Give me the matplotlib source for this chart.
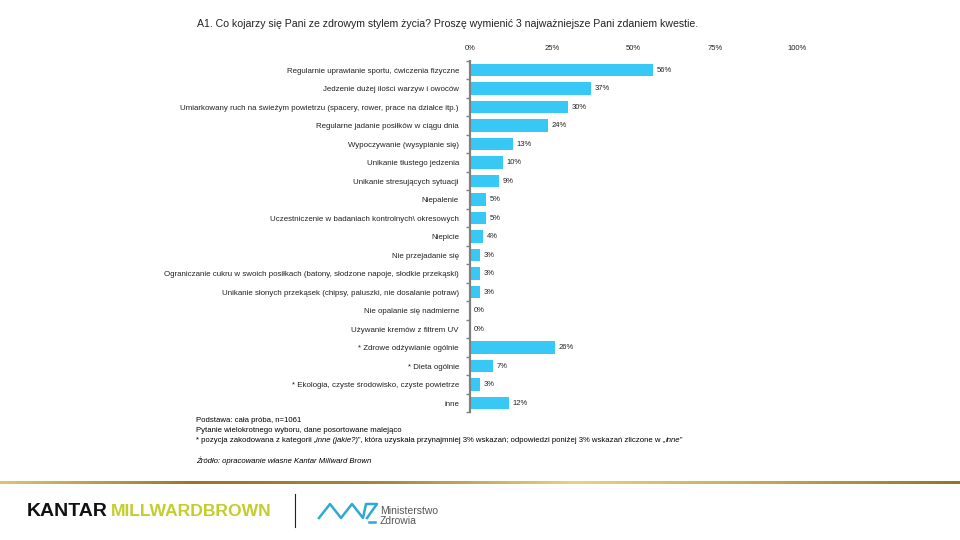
import matplotlib
matplotlib.use("Agg")
import matplotlib.pyplot as plt
import numpy as np
from matplotlib.colors import LinearSegmentedColormap

plt.rcParams["font.family"] = ["Liberation Sans", "DejaVu Sans"]

title = ("A1. Co kojarzy się Pani ze zdrowym stylem życia? "
         "Proszę wymienić 3 najważniejsze Pani zdaniem kwestie.")

categories = [
    "Regularnie uprawianie sportu, ćwiczenia fizyczne",
    "Jedzenie dużej ilości warzyw i owoców",
    "Umiarkowany ruch na świeżym powietrzu (spacery, rower, prace na działce itp.)",
    "Regularne jadanie posiłków w ciągu dnia",
    "Wypoczywanie (wysypianie się)",
    "Unikanie tłustego jedzenia",
    "Unikanie stresujących sytuacji",
    "Niepalenie",
    "Uczestniczenie w badaniach kontrolnych\\ okresowych",
    "Niepicie",
    "Nie przejadanie się",
    "Ograniczanie cukru w swoich posiłkach (batony, słodzone napoje, słodkie przekąski)",
    "Unikanie słonych przekąsek (chipsy, paluszki, nie dosalanie potraw)",
    "Nie opalanie się nadmierne",
    "Używanie kremów z filtrem UV",
    "* Zdrowe odżywianie ogólnie",
    "* Dieta ogólnie",
    "* Ekologia, czyste środowisko, czyste powietrze",
    "inne",
]
values = [56, 37, 30, 24, 13, 10, 9, 5, 5, 4, 3, 3, 3, 0, 0, 26, 7, 3, 12]
x_ticks = [0, 25, 50, 75, 100]
x_tick_labels = ["0%", "25%", "50%", "75%", "100%"]

BAR = "#38c8f6"
GRAY = "#808080"
W, H = 960, 540

fig = plt.figure(figsize=(9.6, 5.4), dpi=100)

# main axes, placed in pixel terms
left, right = 470, 797
top, bottom = 60.75, 412.25
ax = fig.add_axes([left / W, 1 - bottom / H, (right - left) / W, (bottom - top) / H])

y = np.arange(len(categories))
ax.barh(y, values, height=0.65, color=BAR)
for yi, v in zip(y, values):
    ax.annotate(f"{v}%", (v, yi), xytext=(2.5, 0), textcoords="offset points",
                va="center", ha="left", fontsize=5.5, color="#222222")

ax.set_xlim(0, 100)
ax.set_ylim(len(categories) - 0.5, -0.5)
ax.xaxis.tick_top()
ax.set_xticks(x_ticks)
ax.set_xticklabels(x_tick_labels, fontsize=5.5, color="#222222")
ax.tick_params(axis="x", length=0, pad=6)
ax.set_yticks(y)
ax.set_yticklabels(categories, fontsize=5.7, color="#222222")
ax.tick_params(axis="y", which="major", length=0, pad=8)
ax.set_yticks(np.arange(-0.5, len(categories), 1), minor=True)
ax.tick_params(axis="y", which="minor", length=3, width=1, color=GRAY)
for s in ["top", "right", "bottom"]:
    ax.spines[s].set_visible(False)
ax.spines["left"].set_color(GRAY)
ax.spines["left"].set_linewidth(1.6)

fig.text(197 / W, 1 - 24 / H, title, fontsize=7.6, va="center", ha="left", color="#222222")

# footnotes
fs = 5.6
fig.text(196 / W, 1 - 421 / H, "Podstawa: cała próba, n=1061", fontsize=fs, va="center")
fig.text(196 / W, 1 - 430 / H, "Pytanie wielokrotnego wyboru, dane posortowane malejąco",
         fontsize=fs, va="center")
segs = [("inne (jakie?)", "italic"),
        ("”, która uzyskała przynajmniej 3% wskazań; odpowiedzi poniżej 3% wskazań zliczone w „",
         "normal"),
        ("inne", "italic"),
        ("”", "normal")]
prev = fig.text(196 / W, 1 - 440 / H, "* pozycja zakodowana z kategorii „",
                fontsize=fs, va="center")
for txt, st in segs:
    prev = ax.annotate(txt, xy=(1, 0.5), xycoords=prev, va="center", ha="left",
                       fontsize=fs, style=st, annotation_clip=False)
fig.text(196 / W, 1 - 461 / H, "Źródło: opracowanie własne Kantar Millward Brown",
         fontsize=fs, va="center", style="italic")

# gold line
gold = LinearSegmentedColormap.from_list(
    "gold", ["#dcc470", "#9a7622", "#a8863a", "#e6d480", "#c4a852", "#957424"])
lax = fig.add_axes([0, 1 - 484 / H, 1, 3.5 / H])
lax.imshow(np.linspace(0, 1, 400)[None, :], aspect="auto", cmap=gold)
lax.axis("off")

# logos
kantar = fig.text(27 / W, 1 - 511 / H, "KANTAR", fontsize=14, fontweight="bold",
                  va="center", ha="left", color="#111111")
ax.annotate("MILLWARDBROWN", xy=(1, 0.5), xycoords=kantar, xytext=(2, 0),
            textcoords="offset points", fontsize=12.6, fontweight="bold",
            va="center", ha="left", color="#c3cd2c", annotation_clip=False)
fig.add_artist(plt.Line2D([295 / W, 295 / W], [1 - 494 / H, 1 - 527 / H],
                          color="#222222", lw=0.8))
zx = [319, 330, 341, 352, 363, 366, 377, 367]
zy = [518, 504, 518, 504, 518, 504, 504, 518]
fig.add_artist(plt.Line2D([v / W for v in zx], [1 - v / H for v in zy],
                          color="#2ea9d6", lw=1.8))
fig.add_artist(plt.Line2D([369 / W, 375 / W], [1 - 522 / H, 1 - 522 / H],
                          color="#2ea9d6", lw=1.8))
fig.text(380 / W, 1 - 510.5 / H, "Ministerstwo", fontsize=7.5, va="center", color="#555555")
fig.text(380 / W, 1 - 521.5 / H, "Zdrowia", fontsize=7.5, va="center", color="#555555")

fig.savefig("out.png", dpi=100, facecolor="white")
